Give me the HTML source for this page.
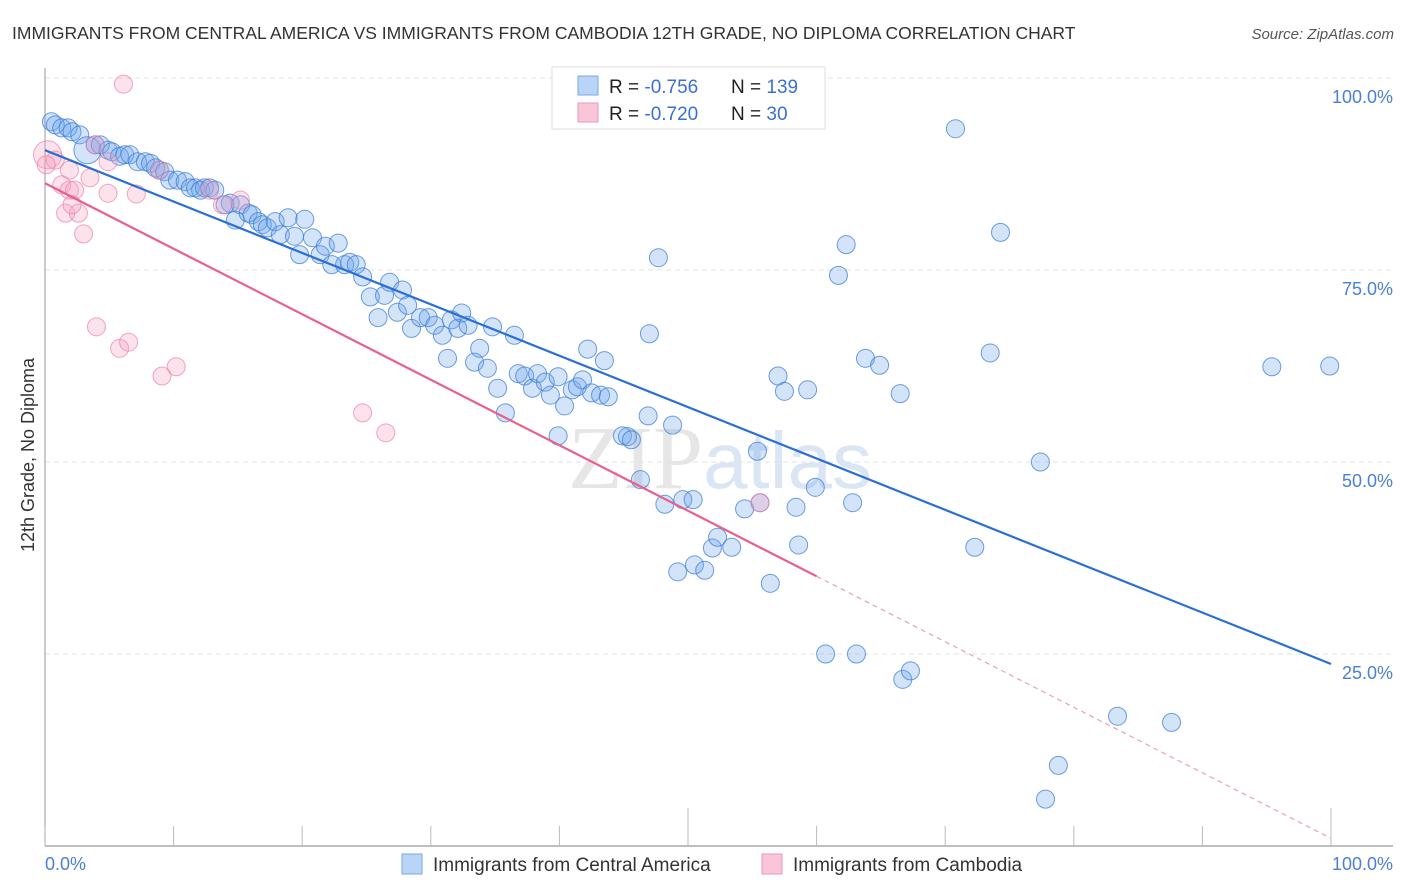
<!DOCTYPE html>
<html><head><meta charset="utf-8">
<style>
body{margin:0;background:#fff;font-family:"Liberation Sans",sans-serif;}
#wrap{position:relative;width:1406px;height:892px;overflow:hidden;}
svg{position:absolute;left:0;top:0;}
</style></head>
<body>
<div id="wrap">
<svg id="chart" width="1406" height="892">
  <text x="12" y="39" font-size="17.5" fill="#333">IMMIGRANTS FROM CENTRAL AMERICA VS IMMIGRANTS FROM CAMBODIA 12TH GRADE, NO DIPLOMA CORRELATION CHART</text>
  <text x="1394" y="39" font-size="15" fill="#555" font-style="italic" text-anchor="end">Source: ZipAtlas.com</text>
  <text x="720" y="488" font-size="90" fill="#e6e6e6" text-anchor="middle" font-family="Liberation Serif,serif">ZIP<tspan fill="#dbe6f5" font-family="Liberation Sans,sans-serif" font-size="80">atlas</tspan></text>
  <text transform="translate(34,455) rotate(-90)" font-size="18" fill="#333" text-anchor="middle">12th Grade, No Diploma</text>
  <g id="grid"></g>
  <g id="pts"></g>
  <g id="lines"></g>
  <g>
    <rect x="552" y="67" width="273" height="62" fill="#fff" stroke="#ddd"/>
    <rect x="578" y="76" width="20" height="19" fill="#b8d4f6" stroke="#7aa6e4"/>
    <rect x="578" y="103" width="20" height="19" fill="#f8c6d4" stroke="#eb9ab4"/>
    <text x="609" y="93" font-size="19" fill="#222">R = <tspan fill="#3b6fd4">-0.756</tspan></text>
    <text x="731" y="93" font-size="19" fill="#222">N = <tspan fill="#3b6fd4">139</tspan></text>
    <text x="609" y="120" font-size="19" fill="#222">R = <tspan fill="#3b6fd4">-0.720</tspan></text>
    <text x="731" y="120" font-size="19" fill="#222">N = <tspan fill="#3b6fd4"> 30</tspan></text>
  </g>
  <g>
    <rect x="402" y="854" width="20" height="20" fill="#b8d4f6" stroke="#7aa6e4"/>
    <text x="433" y="871" font-size="19" fill="#333">Immigrants from Central America</text>
    <rect x="762" y="854" width="20" height="20" fill="#f8c6d4" stroke="#eb9ab4"/>
    <text x="793" y="871" font-size="19" fill="#333">Immigrants from Cambodia</text>
  </g>
  <text x="45" y="870" font-size="18" fill="#4a7fd4">0.0%</text>
  <text x="1393" y="870" font-size="18" fill="#4a7fd4" text-anchor="end">100.0%</text>
</svg>
</div>
<script>
const yTickVals=[100,75,50,25];
const yTickLabels=["100.0%","75.0%","50.0%","25.0%"];
const blueX=[0.5,0.8,1.3,1.8,2.1,2.7,3.3,3.9,4.3,4.9,5.2,5.8,6.2,6.6,7.2,7.8,8.2,8.6,8.9,9.3,9.7,10.3,10.9,11.3,11.7,12.1,12.4,12.8,13.2,14.0,14.4,14.8,15.2,15.8,16.1,16.6,16.9,17.3,17.9,18.3,18.9,19.4,19.8,20.2,20.8,21.4,21.8,22.3,22.8,23.3,23.7,24.2,24.7,25.3,25.9,26.4,26.8,27.4,27.8,28.2,28.5,29.2,29.8,30.3,30.9,31.3,31.6,32.1,32.4,32.9,33.4,33.8,34.4,34.8,35.2,35.8,36.5,36.8,37.3,37.9,38.3,38.9,39.3,39.9,40.4,41.0,41.4,41.8,42.2,42.5,43.2,43.5,43.8,44.9,45.3,45.6,46.3,46.9,47.0,47.7,48.2,48.8,49.6,50.4,49.2,50.5,51.3,51.9,52.3,53.4,54.4,55.4,55.6,56.4,57.0,57.5,58.4,58.6,59.3,59.9,60.7,61.7,62.3,62.8,63.1,63.8,64.9,66.5,66.7,67.3,70.8,72.3,73.5,74.3,77.4,77.8,78.8,83.4,87.6,95.4,99.9,54.2,39.9];
const blueY=[94.3,93.9,93.5,93.5,93.0,92.6,90.6,91.3,91.3,90.6,90.4,89.8,90.0,90.0,89.1,89.1,88.9,88.3,88.0,87.8,86.7,86.7,86.5,85.7,85.7,85.4,85.7,85.7,85.4,83.5,83.7,81.5,83.5,82.4,82.2,81.3,80.9,80.5,81.3,79.6,81.8,79.4,77.0,81.6,79.2,77.0,78.1,75.7,78.5,75.7,76.0,75.7,74.1,71.5,68.8,71.7,73.4,69.5,72.4,70.4,67.4,68.8,68.8,67.8,66.5,63.5,68.5,67.4,69.4,67.8,63.0,64.8,62.2,67.6,59.6,56.4,66.5,61.5,61.2,59.6,61.5,60.4,58.7,61.1,57.3,59.4,59.8,60.7,64.7,59.0,58.7,63.2,58.5,53.4,53.3,52.9,47.7,56.0,66.7,76.6,44.5,54.8,45.1,45.1,35.7,36.6,35.9,38.8,40.2,38.9,43.9,51.4,44.7,34.2,61.2,59.2,44.1,39.2,59.4,46.7,25.0,74.3,78.3,44.7,25.0,63.5,62.6,58.9,21.7,22.8,93.4,38.9,64.2,79.9,50.0,6.1,10.5,16.9,16.1,62.4,62.5,99.7,53.4];
const blueSize=[1,1,1,1,1,1,1.5,1,1,1,1,1,1,1,1,1,1,1,1,1,1,1,1,1,1,1,1,1,1,1,1,1,1,1,1,1,1,1,1,1,1,1,1,1,1,1,1,1,1,1,1,1,1,1,1,1,1,1,1,1,1,1,1,1,1,1,1,1,1,1,1,1,1,1,1,1,1,1,1,1,1,1,1,1,1,1,1,1,1,1,1,1,1,1,1,1,1,1,1,1,1,1,1,1,1,1,1,1,1,1,1,1,1,1,1,1,1,1,1,1,1,1,1,1,1,1,1,1,1,1,1,1,1,1,1,1,1,1,1,1,1,1,1];
const pinkX=[6.1,0.2,0.8,1.9,1.3,1.9,2.3,3.5,4.9,1.6,2.6,2.1,3.0,4.9,7.1,4.0,5.8,6.5,9.1,10.2,24.7,26.5,15.2,13.8,8.9,3.9,55.6,12.8,0.1];
const pinkY=[99.2,90.0,89.3,88.0,86.1,85.4,85.4,87.0,89.1,82.4,82.4,83.5,79.7,85.0,84.9,67.6,64.8,65.6,61.2,62.4,56.4,53.8,84.1,83.5,88.0,91.3,44.7,85.4,88.7];
const blueTrend=[90.6,23.7];   // y at x=0, x=100
const pinkTrend=[86.3,1.0];
const pinkSolidEnd=60;
const X0=45,X1=1331,YT=78,YB=846;
const sx=v=>X0+(X1-X0)*v/100;
const sy=v=>YB-(YB-YT)*v/100;
const NS="http://www.w3.org/2000/svg";
function mk(tag,attrs,parent){const e=document.createElementNS(NS,tag);for(const k in attrs)e.setAttribute(k,attrs[k]);parent.appendChild(e);return e;}
const grid=document.getElementById('grid');
yTickVals.forEach((v,i)=>{
  const l=mk('line',{x1:X0,x2:1393,y1:sy(v),y2:sy(v),stroke:'#e2e2e2','stroke-dasharray':'5,4'},grid);
  
  
  const t=mk('text',{x:1393,y:sy(v)+25,'font-size':18,fill:'#4a7fd4','text-anchor':'end'},grid);
  t.textContent=yTickLabels[i];
  
  
});
const ax=mk('line',{x1:X0,x2:X0,y1:68,y2:YB,stroke:'#aaa','stroke-width':1.2},grid);


const bx=mk('line',{x1:X0,x2:1393,y1:YB,y2:YB,stroke:'#aaa','stroke-width':1.5},grid);


for(let i=0;i<=10;i++){
  const x=sx(i*10);
  const tk=mk('line',{x1:x,x2:x,y1:(i==5||i==10)?808:826,y2:YB,stroke:'#bbb'},grid);
  
  
}
const pts=document.getElementById('pts');
blueX.forEach((x,i)=>{
  const c=mk('circle',{cx:sx(x),cy:sy(blueY[i]),r:9*(blueSize[i]||1),fill:'rgba(110,165,235,0.3)',stroke:'rgba(60,125,215,0.75)','stroke-width':1},pts);
  
  
});
pinkX.forEach((x,i)=>{
  const c=mk('circle',{cx:sx(x),cy:sy(pinkY[i]),r:i==1?14:9,fill:'rgba(245,160,190,0.3)',stroke:'rgba(235,130,165,0.7)','stroke-width':1},pts);
  
  
});
const lines=document.getElementById('lines');
const bl=mk('line',{x1:sx(0),y1:sy(blueTrend[0]),x2:sx(100),y2:sy(blueTrend[1]),stroke:'#2a6fd8','stroke-width':2.2},lines);


const py=x=>pinkTrend[0]+(pinkTrend[1]-pinkTrend[0])*x/100;
const pl=mk('line',{x1:sx(0),y1:sy(py(0)),x2:sx(pinkSolidEnd),y2:sy(py(pinkSolidEnd)),stroke:'#e8608c','stroke-width':2.2},lines);


const pd=mk('line',{x1:sx(pinkSolidEnd),y1:sy(py(pinkSolidEnd)),x2:sx(100),y2:sy(py(100)),stroke:'#e8a0b8','stroke-width':1.2,'stroke-dasharray':'5,4'},lines);


</script>
</body></html>
